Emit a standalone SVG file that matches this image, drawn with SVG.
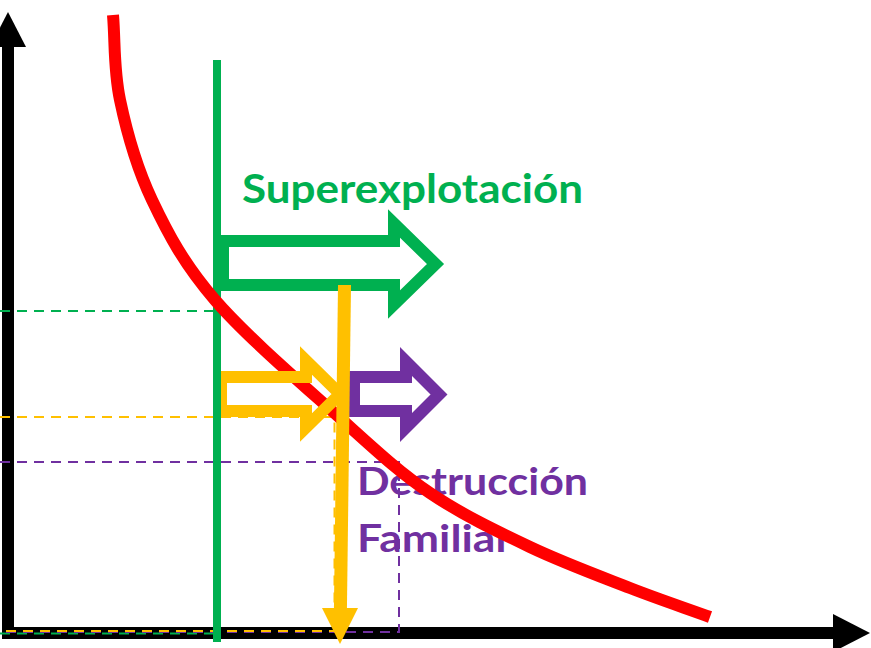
<svg xmlns="http://www.w3.org/2000/svg" width="871" height="648" viewBox="0 0 871 648">
  <style>
    .lbl { font-family: Lato, "Open Sans", "Liberation Sans", sans-serif; font-weight: bold; }
    .dash { fill: none; stroke-width: 2; stroke-dasharray: 10 7; }
    .blk { fill: none; stroke-width: 12; stroke-linejoin: miter; stroke-miterlimit: 10; }
  </style>
  <rect width="871" height="648" fill="#FFFFFF"/>

  <g id="axes">
    <line x1="8" y1="44" x2="8" y2="639" stroke="#000" stroke-width="12"/>
    <polygon points="8,12 26,47 -10,47" fill="#000"/>
    <line x1="8" y1="633" x2="836" y2="633" stroke="#000" stroke-width="12"/>
    <polygon points="870,633 833,614 833,652" fill="#000"/>
  </g>

  <g id="label-superexplotacion">
    <text class="lbl" x="242" y="203" font-size="41" fill="#00B050" textLength="341" lengthAdjust="spacingAndGlyphs">Superexplotación</text>
  </g>
  <g id="label-destruccion">
    <text class="lbl" x="357" y="495" font-size="38" fill="#7030A0" textLength="231" lengthAdjust="spacingAndGlyphs">Destrucción</text>
    <text class="lbl" x="357" y="552" font-size="38" fill="#7030A0" textLength="155" lengthAdjust="spacingAndGlyphs">Familiar</text>
  </g>

  <g id="connectors">
    <g id="guides">
      <polyline class="dash" stroke="#00B050" points="0,311 217,311"/>
      <polyline class="dash" stroke="#00B050" points="0,633.5 217,633.5"/>
      <polyline class="dash" stroke="#7030A0" points="0,462 399,462 399,632 0,632"/>
      <polyline class="dash" stroke="#FFC000" points="0,417 334.5,417 334.5,631 0,631"/>
    </g>

    <line id="green-line" x1="217" y1="60" x2="217" y2="642" stroke="#00B050" stroke-width="8"/>

    <path id="red-curve" d="M113,15 C115.3,43.3 113.5,69.2 120,100 C126.5,130.8 136.2,166.7 152,200 C167.8,233.3 183.7,263.7 215,300 C246.3,336.3 304.2,385.8 340,418 C375.8,450.2 398.3,471.5 430,493 C461.7,514.5 496.7,531.2 530,547 C563.3,562.8 600,576.3 630,588 C660,599.7 683.3,607.3 710,617" fill="none" stroke="#FF0000" stroke-width="12"/>
  </g>

  <g id="arrow-green">
    <path class="blk" stroke="#00B050" fill="#FFFFFF" d="M223,241 H394 V223.5 L435.5,264 L394,304.5 V285 H223 Z"/>
  </g>
  <g id="arrow-yellow">
    <path class="blk" stroke="#FFC000" fill="#FFFFFF" d="M221,377 H306 V360.5 L340,394 L306,427.5 V411 H221 Z"/>
    <line x1="217" y1="360" x2="217" y2="430" stroke="#00B050" stroke-width="8"/>
  </g>
  <g id="arrow-purple">
    <path class="blk" stroke="#7030A0" fill="#FFFFFF" d="M354,377 H406 V361.5 L439,394.5 L406,427.5 V411 H354 Z"/>
  </g>
  <g id="arrow-yellow-down">
    <line x1="344.5" y1="285" x2="340.4" y2="612" stroke="#FFC000" stroke-width="13"/>
    <polygon points="322,608 358,608 340,644" fill="#FFC000"/>
  </g>
</svg>
